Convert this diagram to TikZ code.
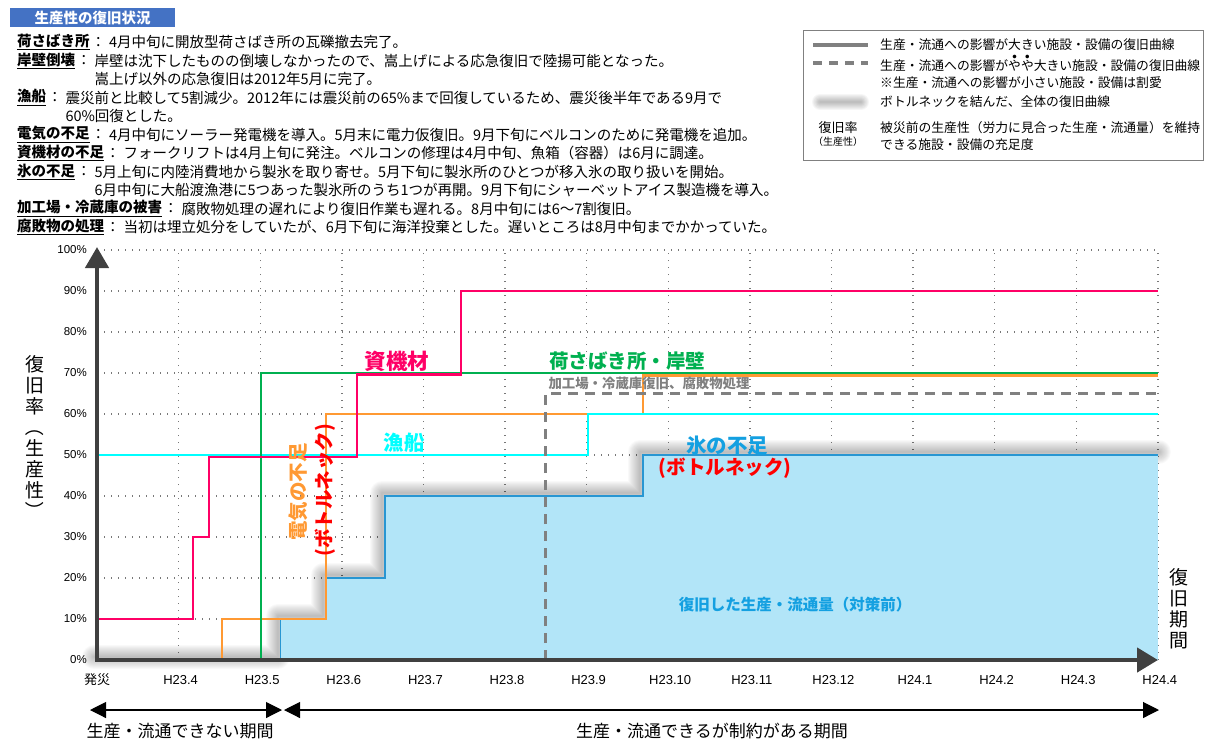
\documentclass[tikz,border=0pt]{standalone}
\usepackage{fontspec}
\setmainfont{Noto Sans CJK JP}
\newfontfamily\arialfont{Liberation Sans}
\usetikzlibrary{arrows.meta,positioning}

\definecolor{titleblue}{RGB}{68,114,196}
\definecolor{pinkc}{RGB}{255,0,102}
\definecolor{greenc}{RGB}{0,176,80}
\definecolor{orangec}{RGB}{255,153,51}
\definecolor{cyanc}{RGB}{0,255,255}
\definecolor{iceline}{RGB}{40,150,210}
\definecolor{icefill}{RGB}{178,229,248}
\definecolor{icetext}{RGB}{20,160,225}
\definecolor{dashgray}{RGB}{128,128,128}
\definecolor{axisgray}{RGB}{64,64,64}
\definecolor{gridgray}{RGB}{120,120,120}

\tikzset{
  note/.style={anchor=west, inner sep=0pt, font=\fontsize{14.5}{15}\selectfont},
  notehead/.style={note, font=\fontsize{14.5}{15}\selectfont\bfseries},
  legtext/.style={anchor=west, inner sep=0pt, font=\fontsize{12.8}{14}\selectfont},
  gridline/.style={gridgray, line width=1.4pt, dash pattern=on 1.4pt off 5.6pt},
  curve/.style={line width=2.3pt},
  axisline/.style={axisgray, line width=4.5pt, line join=miter},
  ticklabel/.style={inner sep=0pt, font=\arialfont\fontsize{11.5}{12}\selectfont},
  clabel/.style={inner sep=0pt, font=\fontsize{19.5}{20}\selectfont\bfseries},
  vlabel/.style={inner sep=0pt, align=center, font=\fontsize{19}{21}\selectfont},
  period/.style={line width=1.1pt, {Triangle[length=16pt,width=16pt]}-{Triangle[length=16pt,width=16pt]}},
  periodlabel/.style={inner sep=0pt, font=\fontsize{17}{18}\selectfont},
  blur/.style={black, line join=round, line cap=round, opacity=0.024},
}

\newcommand{\bouten}[1]{\leavevmode\rlap{\makebox[1em][c]{\raisebox{0.95em}{\fontsize{4}{4}\selectfont ●}}}#1}

\begin{document}
\begin{tikzpicture}[x=1pt, y=-1pt]
  \useasboundingbox (0,0) rectangle (1215,740);

  % Titulo
  \node[fill=titleblue, text=white, font=\fontsize{14.5}{15}\selectfont\bfseries,
        minimum width=165pt, minimum height=19pt, inner sep=0pt, anchor=north west] (title) at (10,8) {生産性の復旧状況};

  % Notas
  \node[notehead] (h1) at (17,42) {\underline{荷さばき所}};
  \node[note, right=1pt of h1] (c1) {：};
  \node[note, right=3pt of c1] (t1) {4月中旬に開放型荷さばき所の瓦礫撤去完了。};
  \node[notehead] (h2) at (17,60.5) {\underline{岸壁倒壊}};
  \node[note, right=1pt of h2] (c2) {：};
  \node[note, right=3pt of c2] (t2) {岸壁は沈下したものの倒壊しなかったので、嵩上げによる応急復旧で陸揚可能となった。};
  \node[note] (t3) at (t2.west |- 0,79) {嵩上げ以外の応急復旧は2012年5月に完了。};
  \node[notehead] (h4) at (17,97.5) {\underline{漁船}};
  \node[note, right=1pt of h4] (c4) {：};
  \node[note, right=3pt of c4] (t4) {震災前と比較して5割減少。2012年には震災前の65\%まで回復しているため、震災後半年である9月で};
  \node[note] (t5) at (t4.west |- 0,116) {60\%回復とした。};
  \node[notehead] (h6) at (17,134.5) {\underline{電気の不足}};
  \node[note, right=1pt of h6] (c6) {：};
  \node[note, right=3pt of c6] (t6) {4月中旬にソーラー発電機を導入。5月末に電力仮復旧。9月下旬にベルコンのために発電機を追加。};
  \node[notehead] (h7) at (17,153) {\underline{資機材の不足}};
  \node[note, right=1pt of h7] (c7) {：};
  \node[note, right=3pt of c7] (t7) {フォークリフトは4月上旬に発注。ベルコンの修理は4月中旬、魚箱（容器）は6月に調達。};
  \node[notehead] (h8) at (17,171.5) {\underline{氷の不足}};
  \node[note, right=1pt of h8] (c8) {：};
  \node[note, right=3pt of c8] (t8) {5月上旬に内陸消費地から製氷を取り寄せ。5月下旬に製氷所のひとつが移入氷の取り扱いを開始。};
  \node[note] (t9) at (t8.west |- 0,190) {6月中旬に大船渡漁港に5つあった製氷所のうち1つが再開。9月下旬にシャーベットアイス製造機を導入。};
  \node[notehead] (h10) at (17,208.5) {\underline{加工場・冷蔵庫の被害}};
  \node[note, right=1pt of h10] (c10) {：};
  \node[note, right=3pt of c10] (t10) {腐敗物処理の遅れにより復旧作業も遅れる。8月中旬には6～7割復旧。};
  \node[notehead] (h11) at (17,227) {\underline{腐敗物の処理}};
  \node[note, right=1pt of h11] (c11) {：};
  \node[note, right=3pt of c11] (t11) {当初は埋立処分をしていたが、6月下旬に海洋投棄とした。遅いところは8月中旬までかかっていた。};

  % Leyenda
  \node[draw=dashgray, line width=1.3pt, minimum width=400pt, minimum height=130pt, inner sep=0pt, anchor=north west] (legend) at (803,30) {};
  \draw[dashgray, line width=3.2pt] (813,45) -- (868,45);
  \draw[dashgray, line width=3.2pt, dash pattern=on 9pt off 7pt] (813,63) -- (868,63);
  \foreach \w in {16,14,...,2}
    \draw[blur, line width=\w pt, opacity=0.035] (820,102) -- (861,102);
  \node[legtext] (l1) at (880,45) {生産・流通への影響が大きい施設・設備の復旧曲線};
  \node[legtext] (l2) at (880,63) {生産・流通への影響が\bouten{や}\bouten{や}大きい施設・設備の復旧曲線};
  \node[legtext] (l3) at (880,83) {※生産・流通への影響が小さい施設・設備は割愛};
  \node[legtext] (l4) at (880,102) {ボトルネックを結んだ、全体の復旧曲線};
  \node[inner sep=0pt, font=\fontsize{13}{14}\selectfont] (l5) at (838,128) {復旧率};
  \node[inner sep=0pt, font=\fontsize{10}{11}\selectfont, below=3pt of l5] (l6) {（生産性）};
  \node[legtext] (l7) at (880,128) {被災前の生産性（労力に見合った生産・流通量）を維持};
  \node[legtext] (l8) at (880,145) {できる施設・設備の充足度};

  % Grafico
  \begin{scope}[shift={(97,660)}, x=81.6pt, y=4.1pt]
    % cuadricula
    \foreach \k in {1,...,10} \draw[gridline] (0,\k*10) -- (13,\k*10);
    \foreach \m in {1,...,13} \draw[gridline] (\m,0) -- (\m,100);
    % sombra de la ruta de cuello de botella
    \foreach \w in {24,22,...,2}
      \draw[blur, line width=\w pt, xshift=-3pt, yshift=3pt]
        (0,0) -- (2.25,0) -- (2.25,10) -| (2.81,20) -| (3.53,40) -| (6.69,50) -- (13.05,50);
    % area recuperada
    \fill[icefill] (2.25,0) -- (2.25,10) -| (2.81,20) -| (3.53,40) -| (6.69,50) -- (13,50) -- (13,0) -- cycle;
    \draw[iceline, line width=1.6pt] (2.25,0) -- (2.25,10) -| (2.81,20) -| (3.53,40) -| (6.69,50) -- (13,50);
    % curvas
    \draw[curve, orangec] (1.53,0) -- (1.53,10) -| (2.81,60) -| (6.69,69.4) -- (13,69.4);
    \draw[curve, cyanc] (0,50) -| (6.02,60) -- (13,60);
    \draw[curve, greenc] (2.01,0) -- (2.01,70) -- (13,70);
    \draw[curve, pinkc] (0,10) -| (1.18,30) -| (1.37,49.6) -| (3.19,69.6) -| (4.46,90) -- (13,90);
    \draw[dashgray, line width=3pt, dash pattern=on 10pt off 7pt] (5.50,0) -- (5.50,65) -- (13,65);
  \end{scope}

  % Ejes
  \coordinate (origin) at (97,660);
  \coordinate (ytop) at (97,247);
  \coordinate (xend) at (1158,660);
  \draw[axisline, {Triangle[length=21pt,width=23pt]}-{Triangle[length=21pt,width=24pt]}] (ytop) -- (origin) -- (xend);

  % Etiquetas de los ejes
  \foreach \k in {0,...,10} {
    \pgfmathtruncatemacro\pct{\k*10}
    \node[ticklabel, anchor=east] (yt\k) at (87,{660-41*\k}) {\pct\%};
  }
  \node[inner sep=0pt, font=\fontsize{13}{13}\selectfont] (xt0) at (97,680) {発災};
  \foreach \m/\lab in {1/H23.4,2/H23.5,3/H23.6,4/H23.7,5/H23.8,6/H23.9,7/H23.10,8/H23.11,9/H23.12,10/H24.1,11/H24.2,12/H24.3,13/H24.4}
    \node[ticklabel, font=\arialfont\fontsize{13}{13}\selectfont] (xt\m) at ({99+\m*81.6},680) {\lab};
  \node[vlabel] (ylab) at (35,438) {復\\旧\\率\\\rotatebox[origin=c]{-90}{（}\\生\\産\\性\\\rotatebox[origin=c]{-90}{）}};
  \node[vlabel] (xlab) at (1179,609) {復\\旧\\期\\間};

  % Periodos
  \coordinate (p0) at (90,710);
  \coordinate (p1) at (282,710);
  \coordinate (p2) at (284,710);
  \coordinate (p3) at (1159,710);
  \draw[period] (p0) -- (p1);
  \draw[period] (p2) -- (p3);
  \node[periodlabel] (pl1) at (180,731) {生産・流通できない期間};
  \node[periodlabel] (pl2) at (712,731) {生産・流通できるが制約がある期間};

  % Rotulos de las curvas
  \node[clabel, text=pinkc, font=\fontsize{21.5}{22}\selectfont\bfseries] (shikizai) at (397,361) {資機材};
  \node[clabel, text=greenc] (nisabaki) at (627,361) {荷さばき所・岸壁};
  \node[inner sep=0pt, font=\fontsize{13.4}{14}\selectfont\bfseries, text=dashgray] (kakou) at (649,383) {加工場・冷蔵庫復旧、腐敗物処理};
  \node[clabel, text=cyanc, font=\fontsize{20.5}{21}\selectfont\bfseries] (gyosen) at (404,443) {漁船};
  \node[clabel, text=icetext, font=\fontsize{20.5}{21}\selectfont\bfseries] (koori) at (727,446) {氷の不足};
  \node[clabel, text=red] (kooribn) at (725,468) {(ボトルネック)};
  \node[clabel, text=orangec, rotate=90] (denki) at (298,492) {電気の不足};
  \node[clabel, text=red, rotate=90] (denkibn) at (325,490) {(ボトルネック)};
  \node[inner sep=0pt, font=\fontsize{15.5}{16}\selectfont\bfseries, text=icetext] (fukkyu) at (795,605) {復旧した生産・流通量（対策前）};
\end{tikzpicture}
\end{document}
